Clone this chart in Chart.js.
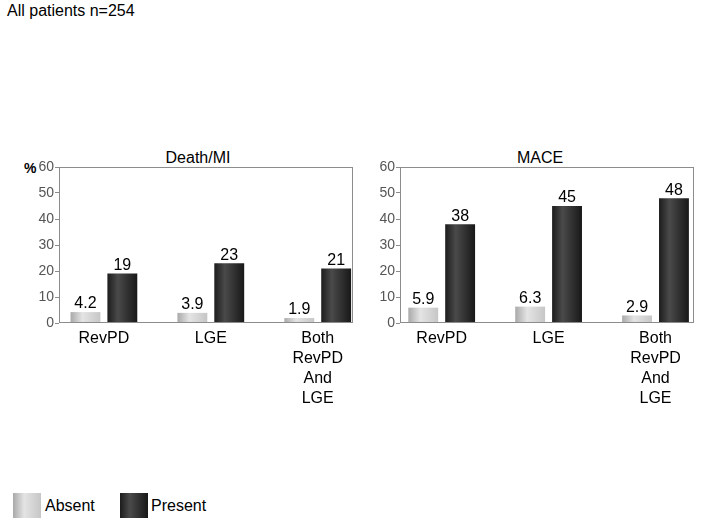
<!DOCTYPE html>
<html>
<head>
<meta charset="utf-8">
<script src="https://cdn.jsdelivr.net/npm/chart.js@4/dist/chart.umd.min.js"></script>
<style>
  html, body { margin: 0; padding: 0; background: #fff; }
  body { width: 703px; height: 524px; position: relative; overflow: hidden;
         font-family: "Liberation Sans", Arial, sans-serif; color: #000; }
  .abs { position: absolute; }
  #heading { left: 7px; top: 2px; font-size: 16px; }
  .ptitle { font-size: 16px; background: #fff; padding: 0 9px; line-height: 18px;
            transform: translate(-50%, -50%); white-space: nowrap; }
  #pct { left: 24px; top: 160px; font-size: 14px; font-weight: bold; }
  .lbox { width: 28px; height: 25px; }
  .ltext { font-size: 16px; }
</style>
</head>
<body>
<div id="heading" class="abs">All patients n=254</div>
<div id="pct" class="abs">%</div>
<canvas id="c1" class="abs" style="left:0;top:130px;width:360px;height:290px"></canvas>
<canvas id="c2" class="abs" style="left:360px;top:130px;width:343px;height:290px"></canvas>
<div id="t1" class="abs ptitle" style="left:198px;top:158px"></div>
<div id="t2" class="abs ptitle" style="left:540px;top:158px"></div>
<div class="abs lbox" style="left:13px;top:493px;background:linear-gradient(to right,#a9a9a9,#e4e4e4 40%,#c6c6c6)"></div>
<div class="abs ltext" id="lg1" style="left:45px;top:497px"></div>
<div class="abs lbox" style="left:120px;top:493px;background:linear-gradient(to right,#1c1c1c,#4a4a4a 35%,#181818)"></div>
<div class="abs ltext" id="lg2" style="left:151px;top:497px"></div>
<script>
// ---- data ----
const categories = [['RevPD'], ['LGE'], ['Both', 'RevPD', 'And', 'LGE']];
const seriesNames = ['Absent', 'Present'];
const panelTitles = ['Death/MI', 'MACE'];
const deathMiAbsent = [4.2, 3.9, 1.9];
const deathMiPresent = [19, 23, 21];
const maceAbsent = [5.9, 6.3, 2.9];
const macePresent = [38, 45, 48];
const yTicks = [0, 10, 20, 30, 40, 50, 60];

document.getElementById('t1').textContent = panelTitles[0];
document.getElementById('t2').textContent = panelTitles[1];
document.getElementById('lg1').textContent = seriesNames[0];
document.getElementById('lg2').textContent = seriesNames[1];

const FONT = '"Liberation Sans", Arial, sans-serif';

const gradStops = [
  [[0, '#a9a9a9'], [0.4, '#e4e4e4'], [1, '#c6c6c6']],
  [[0, '#1c1c1c'], [0.35, '#4a4a4a'], [1, '#181818']]
];

const barPlugin = {
  id: 'barDeco',
  beforeDatasetsDraw(chart) {
    const ctx = chart.ctx;
    chart.data.datasets.forEach((ds, di) => {
      const meta = chart.getDatasetMeta(di);
      meta.data.forEach(el => {
        const g = ctx.createLinearGradient(el.x - el.width / 2, 0, el.x + el.width / 2, 0);
        gradStops[di].forEach(s => g.addColorStop(s[0], s[1]));
        el.options = Object.assign({}, el.options, { backgroundColor: g });
      });
    });
  },
  afterDatasetsDraw(chart) {
    const ctx = chart.ctx;
    ctx.save();
    ctx.fillStyle = '#000';
    ctx.font = '16px ' + FONT;
    ctx.textAlign = 'center';
    ctx.textBaseline = 'bottom';
    chart.data.datasets.forEach((ds, di) => {
      const meta = chart.getDatasetMeta(di);
      meta.data.forEach((el, i) => {
        ctx.fillText(String(ds.data[i].y), el.x, el.y);
      });
    });
    ctx.restore();
  },
  afterDraw(chart) {
    const a = chart.chartArea;
    const ctx = chart.ctx;
    ctx.save();
    ctx.strokeStyle = '#8c8c8c';
    ctx.lineWidth = 1;
    const l = Math.round(a.left) + 0.5, t = Math.round(a.top) + 0.5;
    const r = Math.round(a.right) - 0.5, b = Math.round(a.bottom) - 0.5;
    ctx.strokeRect(l, t, r - l, b - t);
    ctx.restore();
  }
};

function makeChart(id, absent, present, xmin, xmax, yWidth, padL, padR) {
  const toPts = arr => arr.map((v, i) => ({ x: i, y: v }));
  return new Chart(document.getElementById(id), {
    type: 'bar',
    data: {
      datasets: [
        { label: seriesNames[0], data: toPts(absent), backgroundColor: '#d0d0d0',
          categoryPercentage: 0.69, barPercentage: 0.81, borderWidth: 0 },
        { label: seriesNames[1], data: toPts(present), backgroundColor: '#2a2a2a',
          categoryPercentage: 0.69, barPercentage: 0.81, borderWidth: 0 }
      ]
    },
    options: {
      responsive: false,
      animation: false,
      events: [],
      layout: { padding: { left: padL, right: padR, top: 37, bottom: 0 } },
      plugins: { legend: { display: false }, tooltip: { enabled: false }, title: { display: false } },
      scales: {
        x: {
          type: 'linear', min: xmin, max: xmax, offset: false,
          grid: { display: false, drawTicks: false, offset: false },
          border: { display: false },
          afterBuildTicks(scale) { scale.ticks = categories.map((c, i) => ({ value: i })); },
          afterFit(scale) { scale.height = 97; },
          ticks: {
            autoSkip: false, maxRotation: 0, minRotation: 0, padding: 6,
            color: '#000', font: { family: FONT, size: 16, lineHeight: 1.25 },
            callback: (v) => categories[v] || ''
          }
        },
        y: {
          min: 0, max: 60,
          afterBuildTicks(scale) { scale.ticks = yTicks.map(v => ({ value: v })); },
          afterFit(scale) { scale.width = yWidth; },
          grid: { drawOnChartArea: false, drawTicks: true, tickLength: 4, color: '#8c8c8c' },
          border: { display: false },
          ticks: { padding: 1, color: '#555', font: { family: FONT, size: 14 } }
        }
      }
    },
    plugins: [barPlugin]
  });
}

makeChart('c1', deathMiAbsent, deathMiPresent, -0.42, 2.33, 44, 15, 7);
makeChart('c2', maceAbsent, macePresent, -0.39, 2.36, 30, 10, 9);
</script>
</body>
</html>
